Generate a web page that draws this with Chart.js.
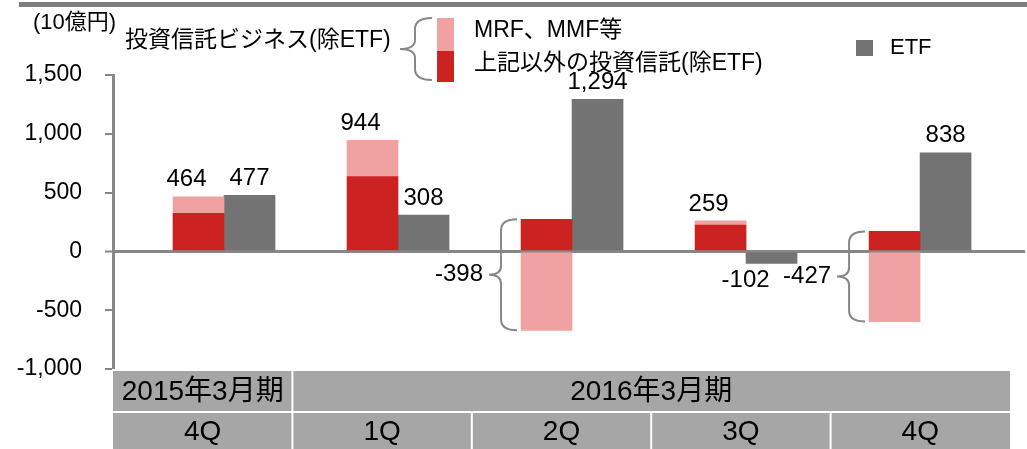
<!DOCTYPE html>
<html lang="ja">
<head>
<meta charset="utf-8">
<script src="https://cdn.jsdelivr.net/npm/chart.js@4"></script>
<style>
  html, body { margin: 0; padding: 0; background: #fff; }
  #wrap { width: 1027px; height: 449px; position: relative; }
</style>
</head>
<body>
<div id="wrap"><canvas id="flowChart"></canvas></div>
<script>
// data (10億円)
const periods = ['2015年3月期', '2016年3月期'];
const periodSpan = [1, 4];
const quarters = ['4Q', '1Q', '2Q', '3Q', '4Q'];
const otherTrust = [324, 637, 273, 224, 170];    // 上記以外の投資信託(除ETF)
const mmfTrust = [140, 307, -671, 35, -597];     // MRF、MMF等
const trustTotal = [464, 944, -398, 259, -427];  // 投資信託ビジネス(除ETF)
const etf = [477, 308, 1294, -102, 838];
const yTicks = [-1000, -500, 0, 500, 1000, 1500];

const FONT = '"Liberation Sans", Arial, "Noto Sans CJK JP", sans-serif';
const RED = '#cc2222';
const PINK = '#f0a2a2';
const GRAY = '#737373';
const AXIS = '#878787';
const CELL = '#a6a6a6';

function brace(ctx, x, top, bottom, tipX, endX) {
  const mid = (top + bottom) / 2;
  const r = 11, t = 9;
  ctx.beginPath();
  ctx.moveTo(endX, top);
  ctx.quadraticCurveTo(x, top, x, top + r);
  ctx.lineTo(x, mid - t);
  ctx.quadraticCurveTo(x, mid, tipX, mid);
  ctx.quadraticCurveTo(x, mid, x, mid + t);
  ctx.lineTo(x, bottom - r);
  ctx.quadraticCurveTo(x, bottom, endX, bottom);
  ctx.stroke();
}

function text(ctx, s, x, y, size, align) {
  ctx.font = size + 'px ' + FONT;
  ctx.textAlign = align || 'center';
  ctx.textBaseline = 'middle';
  ctx.fillText(s, x, y);
}

const decor = {
  id: 'decor',
  beforeDraw(chart) {
    const ctx = chart.ctx;
    const left = chart.chartArea.left, right = 1010;
    const colW = (right - left) / quarters.length;
    ctx.save();
    // header rule
    ctx.fillStyle = '#7f7f7f';
    ctx.fillRect(19, 2, 1008, 5);
    // period / quarter table
    ctx.fillStyle = CELL;
    ctx.fillRect(left, 371, right - left, 40);
    ctx.fillRect(left, 413, right - left, 36);
    ctx.fillStyle = '#fff';
    let col = 0;
    periods.forEach((p, k) => {
      const x0 = left + col * colW;
      if (k > 0) ctx.fillRect(x0 - 1, 371, 2, 40);
      ctx.fillStyle = '#000';
      text(ctx, p, x0 + periodSpan[k] * colW / 2, 392, 28);
      ctx.fillStyle = '#fff';
      col += periodSpan[k];
    });
    quarters.forEach((q, i) => {
      const x0 = left + i * colW;
      if (i > 0) ctx.fillRect(x0 - 1, 413, 2, 36);
      ctx.fillStyle = '#000';
      text(ctx, q, x0 + colW / 2, 432, 28);
      ctx.fillStyle = '#fff';
    });
    ctx.restore();
  },
  afterDraw(chart) {
    const ctx = chart.ctx;
    const redMeta = chart.getDatasetMeta(0);
    const pinkMeta = chart.getDatasetMeta(1);
    const etfMeta = chart.getDatasetMeta(2);
    ctx.save();
    ctx.fillStyle = '#000';
    ctx.strokeStyle = AXIS;
    ctx.lineWidth = 2;

    // legend
    text(ctx, '(10億円)', 33, 23, 22, 'left');
    text(ctx, '投資信託ビジネス(除ETF)', 125, 41, 23, 'left');
    brace(ctx, 415, 18, 80, 400, 432);
    ctx.fillStyle = PINK;
    ctx.fillRect(437, 18, 17, 33);
    ctx.fillStyle = RED;
    ctx.fillRect(437, 51, 17, 31);
    ctx.fillStyle = GRAY;
    ctx.fillRect(856, 40, 17, 16);
    ctx.fillStyle = '#000';
    text(ctx, 'MRF、MMF等', 474, 31, 23, 'left');
    text(ctx, '上記以外の投資信託(除ETF)', 474, 64, 23, 'left');
    text(ctx, 'ETF', 890, 48, 22, 'left');

    // totals of the trust stack
    trustTotal.forEach((v, i) => {
      const red = redMeta.data[i], pink = pinkMeta.data[i];
      const label = v.toLocaleString('en-US');
      if (v >= 0) {
        text(ctx, label, red.x - 12, Math.min(pink.y, red.y) - 17, 24);
      } else {
        const barLeft = red.x - red.width / 2;
        const top = red.y, bottom = pink.y;
        const tipX = barLeft - 32;
        brace(ctx, barLeft - 20, top, bottom, tipX, barLeft - 4);
        text(ctx, label, tipX - 6, (top + bottom) / 2, 24, 'right');
      }
    });

    // ETF labels
    etf.forEach((v, i) => {
      const bar = etfMeta.data[i];
      const label = v.toLocaleString('en-US');
      if (v >= 0) text(ctx, label, bar.x, bar.y - 17, 24);
      else text(ctx, label, bar.x - 26, bar.y + 17, 24);
    });
    ctx.restore();
  }
};

const pts = arr => arr.map((v, i) => ({ x: i, y: v }));

new Chart(document.getElementById('flowChart'), {
  type: 'bar',
  data: {
    datasets: [
      { label: '上記以外の投資信託(除ETF)', data: pts(otherTrust), backgroundColor: RED, stack: 'trust' },
      { label: 'MRF、MMF等', data: pts(mmfTrust), backgroundColor: PINK, stack: 'trust' },
      { label: 'ETF', data: pts(etf), backgroundColor: GRAY, stack: 'etf' }
    ]
  },
  options: {
    responsive: true,
    maintainAspectRatio: false,
    animation: false,
    layout: { padding: { top: 75, bottom: 80, left: 0, right: 2 } },
    datasets: { bar: { barThickness: 51 } },
    plugins: { legend: { display: false }, tooltip: { enabled: false } },
    scales: {
      x: {
        type: 'linear', min: -0.638, max: 4.603, bounds: 'data',
        offset: false, grid: { offset: false }, display: false
      },
      y: {
        min: -1000,
        max: 1500,
        stacked: true,
        z: 1,
        afterBuildTicks: s => { s.ticks = yTicks.map(v => ({ value: v })); },
        afterFit: s => { s.width = 113; },
        ticks: {
          callback: v => v.toLocaleString('en-US'),
          color: '#000',
          padding: 23,
          font: { family: FONT, size: 23 }
        },
        grid: {
          color: c => (c.tick && c.tick.value === 0 ? AXIS : 'transparent'),
          lineWidth: c => (c.tick && c.tick.value === 0 ? 3 : 0),
          tickColor: AXIS,
          tickLength: 8,
          tickWidth: 2
        },
        border: { color: AXIS, width: 3 }
      }
    }
  },
  plugins: [decor]
});
</script>
</body>
</html>
